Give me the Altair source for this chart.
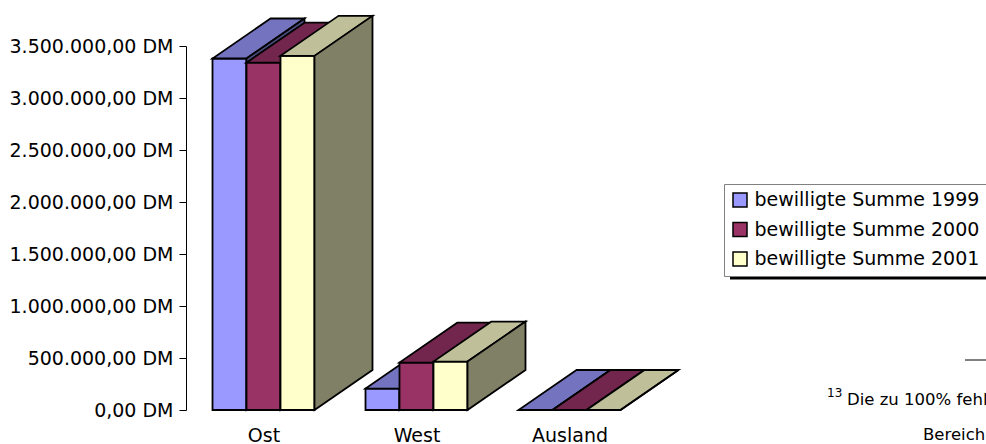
import json
import altair as alt
import pandas as pd

# ---------------- data ----------------
categories = ["Ost", "West", "Ausland"]
series = ["bewilligte Summe 1999", "bewilligte Summe 2000", "bewilligte Summe 2001"]
values_1999 = [3380000, 206000, 0]
values_2000 = [3340000, 456000, 0]
values_2001 = [3405000, 466000, 0]
y_ticks = [0, 500000, 1000000, 1500000, 2000000, 2500000, 3000000, 3500000]
footnote_mark = "13"
footnote_text = "Die zu 100% fehl"
footnote_next = "Bereich"

# ---------------- style ----------------
front_colors = ["#9999FF", "#993366", "#FFFFCC"]
top_colors = ["#7373BF", "#73264D", "#BFBF99"]
side_colors = ["#4D4D80", "#4D1A33", "#808066"]
FONT = "DejaVu Sans"

W, H = 459, 364
PAD_L, PAD_T = 187, 46
PAD_R, PAD_B = 986 - PAD_L - W, 444 - PAD_T - H
Y_MAX = 3500000
STEP_PX = W / len(categories)
BAR_W = 34 / STEP_PX
DEPTH_X = 58 / STEP_PX
DEPTH_Y = 40 / H * Y_MAX
SW = 1.8

rows = []
for s, vals in enumerate([values_1999, values_2000, values_2001]):
    for c, v in enumerate(vals):
        for t in (0, 1):
            rows.append({"series": series[s], "s": s, "c": c, "value": v, "t": t,
                         "bar": f"{s}-{c}"})
df = pd.DataFrame(rows)

xs = alt.Scale(domain=[0, len(categories)], nice=False, zero=False)
ys = alt.Scale(domain=[0, Y_MAX], nice=False, zero=False)

x_axis = alt.Axis(values=[i + 0.5 for i in range(len(categories))],
                  labelExpr=json.dumps(categories) + "[floor(datum.value)]",
                  domain=False, ticks=False, grid=False, title=None,
                  labelPadding=16, labelFont=FONT, labelFontSize=19,
                  labelColor="black", labelFlush=False)
y_axis = alt.Axis(values=y_ticks, format="$,.2f", tickSize=7, tickColor="black",
                  tickWidth=1, domainColor="black", domainWidth=1, grid=False,
                  title=None, labelFont=FONT, labelFontSize=19, labelColor="black",
                  labelPadding=6, offset=1)


def X(f):
    return alt.X(f, type="quantitative", scale=xs, axis=x_axis, stack=None)


def Y(f):
    return alt.Y(f, type="quantitative", scale=ys, axis=y_axis, stack=None)


base = alt.Chart(df).transform_calculate(
    x0=f"datum.c + 0.5 + (datum.s - 1.5) * {BAR_W}",
).transform_calculate(
    x1=f"datum.x0 + {BAR_W}",
    xa=f"datum.x0 + datum.t * {DEPTH_X}",
    yt=f"datum.value + datum.t * {DEPTH_Y}",
    yb=f"datum.t * {DEPTH_Y}",
    zero="0",
).transform_calculate(
    xb=f"datum.x1 + datum.t * {DEPTH_X}",
)

legend = alt.Legend(title=None, orient="none", legendX=724 - PAD_L, legendY=184 - PAD_T,
                    symbolType="square", symbolSize=196, symbolStrokeColor="black",
                    symbolStrokeWidth=1.5, symbolOpacity=1, labelFont=FONT,
                    labelFontSize=19, labelLimit=600, labelOffset=5, rowPadding=8.5,
                    padding=6.5, strokeColor="#808080", fillColor="white",
                    labelColor="black")
color = alt.Color("series:N", scale=alt.Scale(domain=series, range=front_colors),
                  legend=legend)

layers = []
for s in range(len(series)):
    front = base.transform_filter(f"datum.s == {s} && datum.t == 0").mark_rect(
        stroke="black", strokeWidth=SW, opacity=1
    ).encode(x=X("x0"), x2="x1:Q", y=Y("value"), y2="zero:Q", color=color)
    top = base.transform_filter(f"datum.s == {s}").mark_area(
        orient="horizontal", fill=top_colors[s], stroke="black", strokeWidth=SW,
        opacity=1, interpolate="linear"
    ).encode(y=Y("yt"), x=X("xa"), x2="xb:Q", detail="bar:N")
    side = base.transform_filter(f"datum.s == {s}").mark_area(
        orient="vertical", fill=side_colors[s], stroke="black", strokeWidth=SW,
        opacity=1, interpolate="linear"
    ).encode(x=X("xb"), y=Y("yt"), y2="yb:Q", detail="bar:N")
    layers += [front, top, side]

one = pd.DataFrame({"k": [0]})
shadow = alt.Chart(one).mark_rule(color="black", strokeWidth=5).encode(
    x=alt.value(730 - PAD_L), x2=alt.value(1000 - PAD_L), y=alt.value(277 - PAD_T))
fn_line = alt.Chart(one).mark_rule(color="black", strokeWidth=1).encode(
    x=alt.value(965 - PAD_L), x2=alt.value(1000 - PAD_L), y=alt.value(360 - PAD_T))
fn_mark = alt.Chart(pd.DataFrame({"txt": [footnote_mark]})).mark_text(
    font=FONT, align="left", baseline="alphabetic", color="black"
).encode(x=alt.value(827 - PAD_L), y=alt.value(397 - PAD_T), text="txt:N",
         size=alt.value(12))
fn_text = alt.Chart(pd.DataFrame({"txt": [footnote_text]})).mark_text(
    font=FONT, align="left", baseline="alphabetic", color="black"
).encode(x=alt.value(847 - PAD_L), y=alt.value(405 - PAD_T), text="txt:N",
         size=alt.value(16.5))
fn_next = alt.Chart(pd.DataFrame({"txt": [footnote_next]})).mark_text(
    font=FONT, align="left", baseline="alphabetic", color="black"
).encode(x=alt.value(923 - PAD_L), y=alt.value(440 - PAD_T), text="txt:N",
         size=alt.value(16.5))

chart = alt.layer(*layers, shadow, fn_line, fn_mark, fn_text, fn_next).properties(
    width=W, height=H,
    padding={"left": PAD_L, "top": PAD_T, "right": PAD_R, "bottom": PAD_B},
    autosize=alt.AutoSizeParams(type="none"),
    background="white",
).configure(
    locale={"number": {"decimal": ",", "thousands": ".", "grouping": [3],
                       "currency": ["", " DM"]}}
).configure_view(stroke=None)

chart.save("out.html", embed_options={"renderer": "svg", "actions": False})
